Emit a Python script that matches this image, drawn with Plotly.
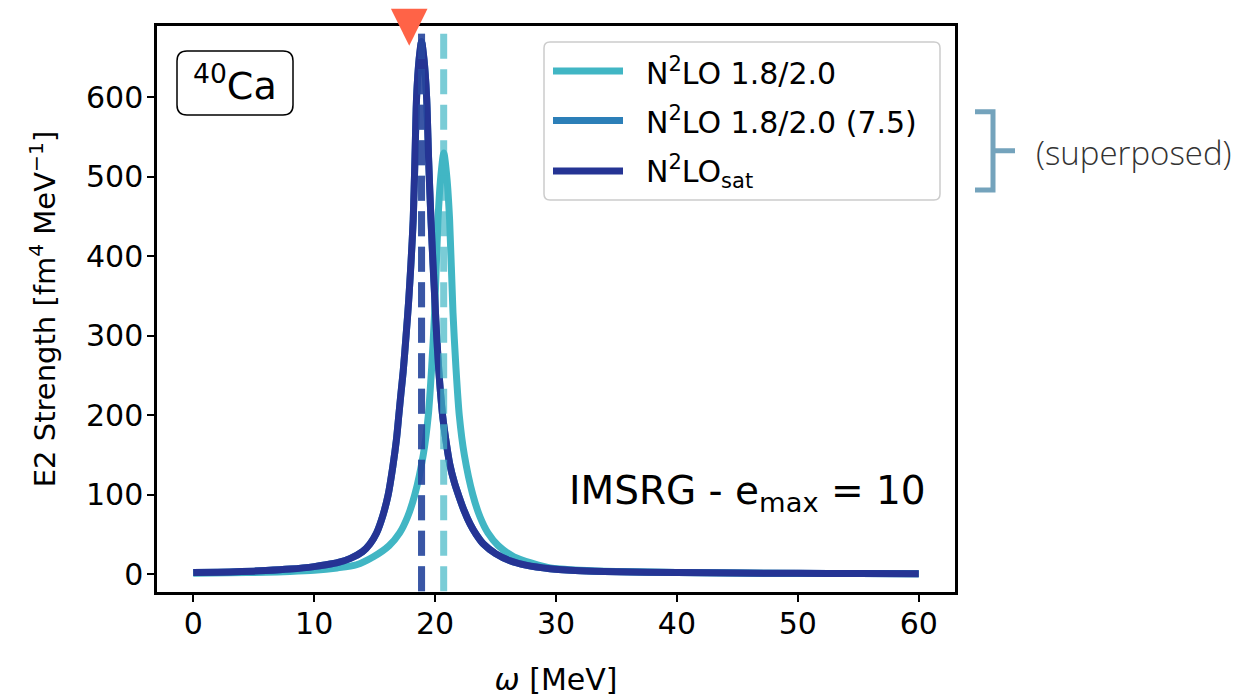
import plotly.graph_objects as go

# E2 strength functions of 40Ca (omega in MeV, strength in fm^4 MeV^-1)
omega_n2lo = [0, 3, 6, 8, 10, 11.9, 13.5, 14.9, 16.2, 17.07, 17.72, 18.32, 19.02,
              19.44, 19.72, 19.96, 20.24, 20.47, 20.72, 20.97, 21.2, 21.48, 21.72,
              22.0, 22.42, 23.12, 23.72, 24.37, 25.22, 26.52, 28, 29.52, 32, 35,
              40, 45, 50, 55, 60]
strength_n2lo = [1.3, 1.8, 2.6, 3.5, 5, 8, 12, 22, 36, 52, 72, 100, 150,
                 200, 261, 329, 446, 500, 530, 500, 446, 329, 261,
                 200, 150, 100, 72, 52, 36, 22, 14, 8, 5, 3.4,
                 2.2, 1.5, 1.1, 0.9, 0.7]

omega_sat = [0, 2, 4, 6, 8, 10, 11, 12, 13, 14, 14.6, 15.16, 15.7, 16.12, 16.5,
             16.8, 17.0, 17.18, 17.36, 17.6, 17.82, 18.0, 18.19, 18.33, 18.47,
             18.68, 18.88, 19.08, 19.3, 19.47, 19.66, 19.83, 19.98, 20.13, 20.3,
             20.45, 20.62, 20.9, 21.22, 21.6, 21.97, 22.4, 22.9, 23.4, 24.0, 25,
             26.2, 27.5, 29.5, 32, 35, 40, 45, 50, 55, 60]
strength_sat = [2.1, 2.6, 3.4, 4.6, 6.5, 9.6, 12, 15, 20, 28.5, 38, 52, 75, 100, 135,
                169, 200, 228, 255, 300, 345, 390, 446, 520, 600,
                648, 670, 648, 600, 520, 446, 390, 345, 300, 258,
                228, 200, 168, 138, 115, 98, 80, 63, 50, 38, 26,
                17, 11.5, 7, 4.5, 3.2, 2.2, 1.6, 1.2, 1.0, 0.8]

# the (7.5) interaction gives the same response as N2LO_sat
omega_n2lo_75 = list(omega_sat)
strength_n2lo_75 = list(strength_sat)

# main-state energies (dashed markers) and experimental centroid
state_energy = [20.71, 18.88, 18.88]
vline_top = 680
exp_energy = 17.86

series_names = ["N<sup>2</sup>LO 1.8/2.0",
                "N<sup>2</sup>LO 1.8/2.0 (7.5)",
                "N<sup>2</sup>LO<sub>sat</sub>"]
series_colors = ["#41b6c4", "#2c7fb8", "#253494"]
dash_colors = ["rgba(65,182,196,0.7)", "rgba(44,127,184,0.7)", "rgba(37,52,148,0.7)"]

x_ticks = [0, 10, 20, 30, 40, 50, 60]
y_ticks = [0, 100, 200, 300, 400, 500, 600]
x_range = [-3, 63]
y_range = [-22.3, 689.7]

# page geometry (pixels)
W, H = 1242, 697
L, R, T, B = 157, 955, 26, 592
FONT = "DejaVu Sans"
LW = 7


def px(x):
    return (x - L) / (R - L)


def py(y):
    return (B - y) / (B - T)


def rounded_rect(x0, y0, x1, y1, r):
    return (f"M{px(x0 + r)},{py(y0)} L{px(x1 - r)},{py(y0)} "
            f"Q{px(x1)},{py(y0)} {px(x1)},{py(y0 + r)} L{px(x1)},{py(y1 - r)} "
            f"Q{px(x1)},{py(y1)} {px(x1 - r)},{py(y1)} L{px(x0 + r)},{py(y1)} "
            f"Q{px(x0)},{py(y1)} {px(x0)},{py(y1 - r)} L{px(x0)},{py(y0 + r)} "
            f"Q{px(x0)},{py(y0)} {px(x0 + r)},{py(y0)} Z")


fig = go.Figure()

curves = [(omega_n2lo, strength_n2lo), (omega_n2lo_75, strength_n2lo_75),
          (omega_sat, strength_sat)]
for (xs, ys), name, col in zip(curves, series_names, series_colors):
    fig.add_trace(go.Scatter(x=xs, y=ys, mode="lines", name=name,
                             line=dict(color=col, width=LW, shape="spline", smoothing=0.7),
                             showlegend=False))

for e, col in zip(state_energy, dash_colors):
    fig.add_trace(go.Scatter(x=[e, e], y=[vline_top, y_range[0]], mode="lines",
                             line=dict(color=col, width=LW, dash="25px,10.5px"),
                             showlegend=False, hoverinfo="skip"))

shapes = []
annotations = []

# experimental centroid marker on the top spine
shapes.append(dict(type="path", xref="x", yref="paper", xsizemode="pixel", ysizemode="pixel",
                   xanchor=exp_energy, yanchor=1,
                   path="M-18.3,17.3 L18.3,17.3 L0,-19.7 Z",
                   fillcolor="tomato", line=dict(width=0), layer="above"))

# legend
shapes.append(dict(type="path", xref="paper", yref="paper", path=rounded_rect(544, 42, 940, 200, 6),
                   fillcolor="rgba(255,255,255,0.85)", line=dict(color="#cccccc", width=1.5),
                   layer="above"))
legend_rows = [71, 120.5, 171]
for yrow, name, col in zip(legend_rows, series_names, series_colors):
    shapes.append(dict(type="line", xref="paper", yref="paper", x0=px(553), x1=px(623),
                       y0=py(yrow), y1=py(yrow), line=dict(color=col, width=LW), layer="above"))
    annotations.append(dict(text=name, xref="paper", yref="paper", x=px(644), y=py(yrow),
                            xanchor="left", yanchor="middle", showarrow=False,
                            font=dict(family=FONT, size=30, color="black")))

# nucleus label
shapes.append(dict(type="path", xref="paper", yref="paper", path=rounded_rect(177, 51, 293, 115, 10),
                   fillcolor="white", line=dict(color="black", width=1.5), layer="above"))
annotations.append(dict(text="<sup>40</sup>Ca", xref="paper", yref="paper", x=px(235), y=py(83),
                        xanchor="center", yanchor="middle", showarrow=False,
                        font=dict(family=FONT, size=38, color="black")))

# method label
annotations.append(dict(text="IMSRG - e<sub>max</sub> = 10", xref="paper", yref="paper",
                        x=px(928), y=py(493), xanchor="right", yanchor="middle", showarrow=False,
                        font=dict(family=FONT, size=39, color="black")))

# bracket grouping the two coinciding curves
bracket = (f"M{px(975)},{py(111.7)} L{px(993)},{py(111.7)} L{px(993)},{py(190)} "
           f"L{px(975)},{py(190)} M{px(993)},{py(150.7)} L{px(1015)},{py(150.7)}")
shapes.append(dict(type="path", xref="paper", yref="paper", path=bracket,
                   line=dict(color="#74a3bc", width=5)))
annotations.append(dict(text="(superposed)", xref="paper", yref="paper", x=px(1034), y=py(152),
                        xanchor="left", yanchor="middle", showarrow=False,
                        font=dict(family="Open Sans", size=33, color="#333333", weight=300)))

axis_common = dict(showline=True, linecolor="black", linewidth=2.5, mirror=True,
                   ticks="outside", ticklen=7, tickwidth=1.5, tickcolor="black",
                   showgrid=False, zeroline=False,
                   tickfont=dict(family=FONT, size=30, color="black"))

fig.update_layout(
    width=W, height=H,
    margin=dict(l=L, r=W - R, t=T, b=H - B, autoexpand=False),
    paper_bgcolor="white", plot_bgcolor="white",
    xaxis=dict(range=x_range, tickvals=x_ticks, ticktext=[str(v) for v in x_ticks],
               ticklabelstandoff=-4,
               title=dict(text="<i>ω</i> [MeV]", font=dict(family=FONT, size=30, color="black"),
                          standoff=32),
               **axis_common),
    yaxis=dict(range=y_range, tickvals=y_ticks, ticktext=[str(v) for v in y_ticks],
               ticklabelstandoff=-2,
               title=dict(text="E2 Strength [fm<sup>4</sup> MeV<sup>−1</sup>]",
                          font=dict(family=FONT, size=29, color="black"), standoff=22),
               **axis_common),
    shapes=shapes, annotations=annotations,
)

fig.write_html("out.html")
